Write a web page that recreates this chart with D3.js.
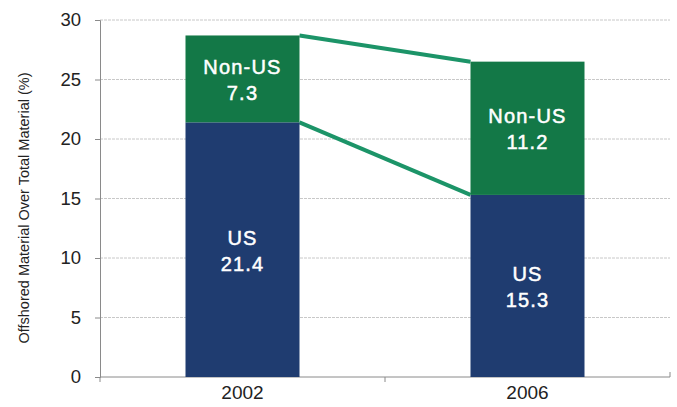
<!DOCTYPE html>
<html>
<head>
<meta charset="utf-8">
<script src="https://cdn.jsdelivr.net/npm/d3@7"></script>
<style>
  html, body { margin: 0; padding: 0; background: #fff; }
  svg { display: block; font-family: Arial, "Liberation Sans", sans-serif; }
</style>
</head>
<body>
<svg id="chart" width="677" height="407"></svg>
<script>
// Offshored material share by year, split into US and non-US sourcing
const years = ["2002", "2006"];
const usValues = [21.4, 15.3];
const nonUsValues = [7.3, 11.2];
const yTicks = [0, 5, 10, 15, 20, 25, 30];
const yTitle = "Offshored Material Over Total Material (%)";

const svg = d3.select("#chart");
const margin = { left: 100, right: 7, top: 20, bottom: 30 };
const W = 677, H = 407;

const x = d3.scaleBand().domain(years).range([margin.left, W - margin.right]).paddingInner(0.6).paddingOuter(0.3);
const band = d3.scaleBand().domain(years).range([margin.left, W - margin.right]);
const y = d3.scaleLinear().domain([0, 30]).range([H - margin.bottom, margin.top]);

const blue = "#1f3c70";
const green = "#137847";
const link = "#1c9468";

// horizontal gridlines
svg.append("g").selectAll("line").data(yTicks.filter(d => d > 0)).join("line")
  .attr("x1", margin.left).attr("x2", W - margin.right)
  .attr("y1", d => y(d)).attr("y2", d => y(d))
  .attr("stroke", "#c8c8c8").attr("stroke-width", 1).attr("stroke-dasharray", "3,1");

// y axis
const yAxis = svg.append("g").attr("transform", `translate(${margin.left},0)`)
  .call(d3.axisLeft(y).tickValues(yTicks).tickSize(5).tickPadding(14));
yAxis.select(".domain").attr("stroke", "#8a8a8a");
yAxis.selectAll(".tick line").attr("stroke", "#8a8a8a");
yAxis.selectAll("text").attr("font-size", 18.5).attr("fill", "#222");

// x axis with ticks at category boundaries
svg.append("line").attr("x1", margin.left).attr("x2", W - margin.right)
  .attr("y1", y(0)).attr("y2", y(0)).attr("stroke", "#8a8a8a");
const bounds = [band(years[0]), band(years[1]), band(years[1]) + band.bandwidth()];
svg.append("g").selectAll("line").data(bounds).join("line")
  .attr("x1", d => d).attr("x2", d => d)
  .attr("y1", y(0)).attr("y2", (d, i) => i === bounds.length - 1 ? y(0) - 5 : y(0) + 5)
  .attr("stroke", "#8a8a8a");
svg.append("g").selectAll("text").data(years).join("text")
  .attr("x", d => x(d) + x.bandwidth() / 2).attr("y", y(0) + 22)
  .attr("text-anchor", "middle").attr("font-size", 19).attr("fill", "#222").text(d => d);

// connector lines between bar segments
const tops = years.map((d, i) => usValues[i] + nonUsValues[i]);
[[tops[0], tops[1]], [usValues[0], usValues[1]]].forEach(([a, b]) => {
  svg.append("line")
    .attr("x1", x(years[0]) + x.bandwidth()).attr("y1", y(a))
    .attr("x2", x(years[1])).attr("y2", y(b))
    .attr("stroke", link).attr("stroke-width", 4);
});

// stacked bars
years.forEach((yr, i) => {
  const bx = x(yr), bw = x.bandwidth();
  svg.append("rect").attr("x", bx).attr("width", bw)
    .attr("y", y(usValues[i])).attr("height", y(0) - y(usValues[i])).attr("fill", blue);
  svg.append("rect").attr("x", bx).attr("width", bw)
    .attr("y", y(tops[i])).attr("height", y(usValues[i]) - y(tops[i])).attr("fill", green);

  const segs = [
    { name: "US", v: usValues[i], mid: usValues[i] / 2 },
    { name: "Non-US", v: nonUsValues[i], mid: usValues[i] + nonUsValues[i] / 2 }
  ];
  segs.forEach(s => {
    const t = svg.append("text").attr("x", bx + bw / 2).attr("y", y(s.mid))
      .attr("text-anchor", "middle").attr("fill", "#fff")
      .attr("stroke", "#fff").attr("stroke-width", 0.5)
      .attr("letter-spacing", 1.2)
      .attr("font-size", 20);
    t.append("tspan").attr("x", bx + bw / 2).attr("dy", -5).text(s.name);
    t.append("tspan").attr("x", bx + bw / 2).attr("dy", 26).text(s.v.toFixed(1));
  });
});

// y axis title
svg.append("text")
  .attr("transform", `translate(29,208) rotate(-90)`)
  .attr("text-anchor", "middle").attr("font-size", 14.5).attr("fill", "#222")
  .text(yTitle);
</script>
</body>
</html>
